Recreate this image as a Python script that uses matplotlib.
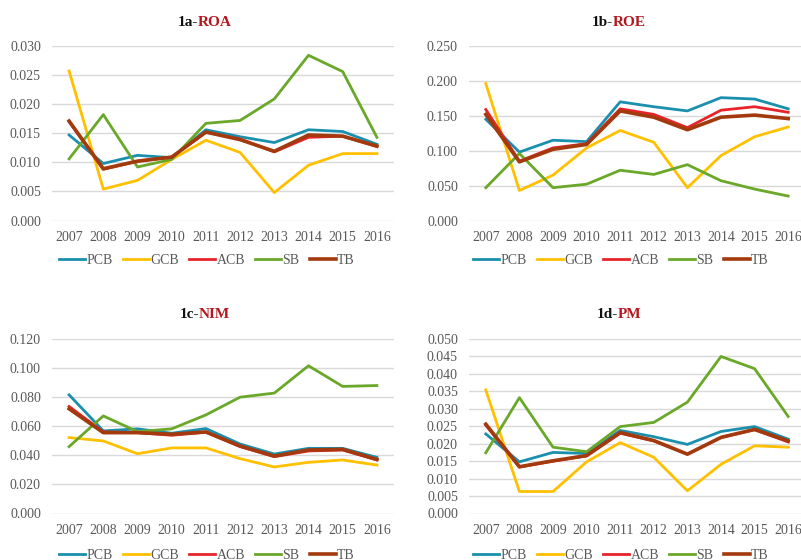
# four panels of bank profitability ratios, 2007-2016
import numpy as np
import matplotlib
matplotlib.use('Agg')
import matplotlib.pyplot as plt

plt.rcParams['font.family'] = ['Liberation Serif', 'DejaVu Serif']

years = ['2007', '2008', '2009', '2010', '2011', '2012', '2013', '2014', '2015', '2016']
banks = ['PCB', 'GCB', 'ACB', 'SB', 'TB']

roa_pcb = [0.0147, 0.0098, 0.0112, 0.0108, 0.0156, 0.0144, 0.0134, 0.0156, 0.0153, 0.0131]
roa_gcb = [0.0257, 0.0054, 0.0069, 0.0105, 0.0138, 0.0117, 0.0048, 0.0095, 0.0115, 0.0115]
roa_acb = [0.0170, 0.0088, 0.0102, 0.0109, 0.0152, 0.0140, 0.0118, 0.0143, 0.0145, 0.0127]
roa_sb  = [0.0106, 0.0182, 0.0092, 0.0105, 0.0167, 0.0172, 0.0209, 0.0284, 0.0256, 0.0143]
roa_tb  = [0.0171, 0.0089, 0.0102, 0.0109, 0.0152, 0.0139, 0.0119, 0.0147, 0.0145, 0.0128]

roe_pcb = [0.145, 0.098, 0.115, 0.113, 0.170, 0.163, 0.157, 0.176, 0.174, 0.160]
roe_gcb = [0.196, 0.043, 0.065, 0.104, 0.129, 0.112, 0.047, 0.093, 0.120, 0.134]
roe_acb = [0.159, 0.085, 0.104, 0.110, 0.160, 0.152, 0.133, 0.158, 0.163, 0.155]
roe_sb  = [0.047, 0.096, 0.047, 0.052, 0.072, 0.066, 0.080, 0.057, 0.045, 0.035]
roe_tb  = [0.152, 0.084, 0.102, 0.109, 0.157, 0.148, 0.130, 0.148, 0.151, 0.146]

nim_pcb = [0.0816, 0.0568, 0.0582, 0.0552, 0.0584, 0.0478, 0.0409, 0.0448, 0.0448, 0.0386]
nim_gcb = [0.0522, 0.0499, 0.0411, 0.0451, 0.0451, 0.0377, 0.0320, 0.0352, 0.0368, 0.0333]
nim_acb = [0.0736, 0.0561, 0.0556, 0.0538, 0.0559, 0.0460, 0.0391, 0.0430, 0.0437, 0.0368]
nim_sb  = [0.0460, 0.0671, 0.0563, 0.0582, 0.0678, 0.0800, 0.0828, 0.1016, 0.0874, 0.0880]
nim_tb  = [0.0720, 0.0556, 0.0556, 0.0545, 0.0561, 0.0464, 0.0395, 0.0437, 0.0441, 0.0372]

pm_pcb = [0.0228, 0.0148, 0.0175, 0.0172, 0.0238, 0.0220, 0.0198, 0.0235, 0.0249, 0.0213]
pm_gcb = [0.0354, 0.0063, 0.0063, 0.0148, 0.0203, 0.0161, 0.0065, 0.0141, 0.0194, 0.0190]
pm_acb = [0.0253, 0.0133, 0.0150, 0.0165, 0.0230, 0.0208, 0.0170, 0.0218, 0.0240, 0.0205]
pm_sb  = [0.0174, 0.0332, 0.0190, 0.0177, 0.0249, 0.0261, 0.0319, 0.0450, 0.0415, 0.0278]
pm_tb  = [0.0256, 0.0134, 0.0151, 0.0166, 0.0232, 0.0209, 0.0170, 0.0218, 0.0241, 0.0208]

colors = ['#1a8fae', '#ffc000', '#e8232a', '#6aa829', '#a33a0e']
widths = [2.0, 2.0, 2.0, 2.0, 2.6]

W, H = 801, 560
fig = plt.figure(figsize=(W / 100, H / 100), dpi=100)

# prefix, name, series, ymax, ystep, pixel box (left, top, right, bottom), centre x, legend offset
panels = [
    ('1a-', 'ROA', [roa_pcb, roa_gcb, roa_acb, roa_sb, roa_tb], 0.030, 0.005, (52, 46, 394, 220.5), 207, 40),
    ('1b-', 'ROE', [roe_pcb, roe_gcb, roe_acb, roe_sb, roe_tb], 0.250, 0.050, (469, 46, 805, 220.5), 621, 40),
    ('1c-', 'NIM', [nim_pcb, nim_gcb, nim_acb, nim_sb, nim_tb], 0.120, 0.020, (52, 339, 394, 513.5), 207, 42),
    ('1d-', 'PM', [pm_pcb, pm_gcb, pm_acb, pm_sb, pm_tb], 0.050, 0.005, (469, 339, 805, 513.5), 621, 42),
]

grey = '#595959'
x = np.arange(len(years))
title_parts = []

for prefix, name, series, ymax, ystep, box, cx, legoff in panels:
    l, t, r, b = box
    ax = fig.add_axes([l / W, 1 - b / H, (r - l) / W, (b - t) / H])
    for s, c, lw, lab in zip(series, colors, widths, banks):
        ax.plot(x, s, color=c, lw=lw, label=lab)
    ax.set_xlim(-0.5, len(years) - 0.5)
    ax.set_ylim(0, ymax)
    ax.set_yticks(np.arange(0, ymax + ystep / 2, ystep))
    ax.yaxis.set_major_formatter(matplotlib.ticker.FormatStrFormatter('%.3f'))
    ax.set_xticks(x)
    ax.set_xticklabels(years)
    ax.grid(axis='y', color='#d9d9d9', lw=1.0)
    ax.set_axisbelow(True)
    for sp in ax.spines.values():
        sp.set_visible(False)
    ax.tick_params(length=0, labelsize=10, colors=grey, pad=8)
    ax.tick_params(axis='x', pad=7.5)
    # legend centred below the axis (reference is cropped at the bottom)
    ax.legend(loc='center', bbox_to_anchor=((cx - l) / (r - l), -legoff / (b - t)), ncol=5,
              frameon=False, fontsize=10, handlelength=1.85, handletextpad=0.1,
              columnspacing=0.75, labelcolor=grey)
    ty = t - 24
    t1 = fig.text(0, 1 - ty / H, prefix, fontsize=11, fontweight='bold', color='#111111', va='center')
    t2 = fig.text(0, 1 - ty / H, name, fontsize=11, fontweight='bold', color='#b5171f', va='center')
    title_parts.append((cx - 2, t1, t2))

# centre the two-colour titles
fig.canvas.draw()
rend = fig.canvas.get_renderer()
for cx, t1, t2 in title_parts:
    w1 = t1.get_window_extent(rend).width
    w2 = t2.get_window_extent(rend).width
    start = cx - (w1 + w2) / 2
    t1.set_x(start / W)
    t2.set_x((start + w1) / W)

fig.savefig('out.png', dpi=100)
